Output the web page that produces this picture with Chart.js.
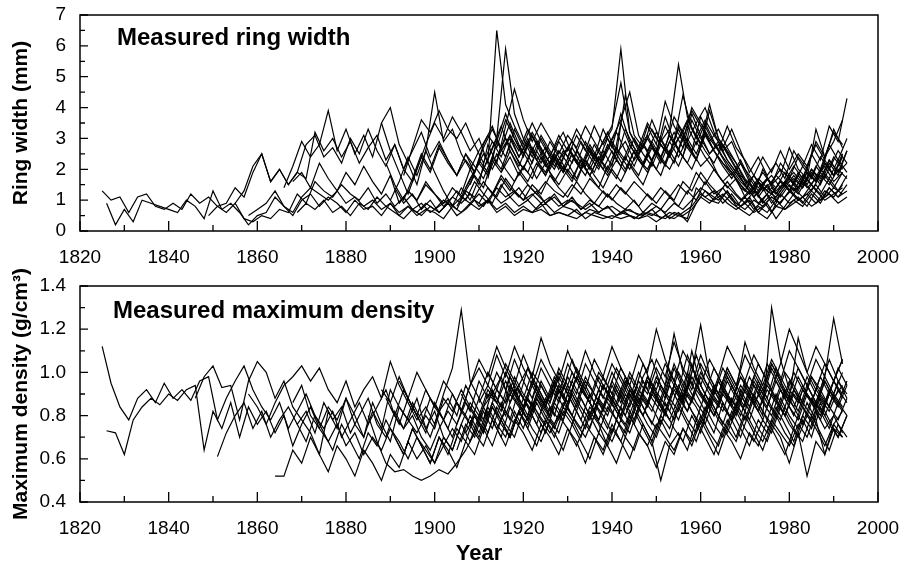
<!DOCTYPE html>
<html>
<head>
<meta charset="utf-8">
<script src="https://cdn.jsdelivr.net/npm/chart.js@4.4.1/dist/chart.umd.min.js"></script>
<style>
  body { margin: 0; background: #fff; }
  #wrap { position: relative; width: 910px; height: 567px; }
  canvas { position: absolute; left: 0; }
  #ringCanvas { top: 0; }
  #densCanvas { top: 260px; }
</style>
</head>
<body>
<div id="wrap">
  <canvas id="ringCanvas" width="910" height="280"></canvas>
  <canvas id="densCanvas" width="910" height="307"></canvas>
</div>
<script>
// tahun dan tick
const xTicks = [1820, 1840, 1860, 1880, 1900, 1920, 1940, 1960, 1980, 2000];
const ringTicks = [0, 1, 2, 3, 4, 5, 6, 7];
const densTicks = [0.4, 0.6, 0.8, 1.0, 1.2, 1.4];
const yearStep = 2; // nilai dibaca tiap 2 tahun

// lebar cincin (mm), tahun awal tiap seri
const ringStarts = [1825, 1826, 1849, 1855, 1858, 1866, 1868, 1869, 1888, 1890,
                    1891, 1893, 1905, 1906, 1908, 1910, 1911, 1912, 1892, 1889,
                    1914, 1915, 1907, 1913];

const ring1 = [1.3, 1.0, 1.1, 0.6, 1.1, 1.2, 0.8, 0.7, 0.9, 0.7, 1.2, 0.9, 1.1,
  0.8, 0.9, 1.4, 1.1, 1.9, 2.5, 1.6, 2.0, 1.5, 1.9, 2.8, 3.1, 2.4,
  2.7, 2.2, 3.0, 2.5, 3.3, 2.6, 2.1, 2.8, 2.0, 2.6, 3.2, 2.4, 2.9,
  2.3, 1.8, 2.5, 2.1, 1.7, 2.4, 2.0, 2.8, 2.2, 1.9, 2.6, 2.1, 2.4,
  1.9, 2.5, 2.0, 2.7, 2.2, 1.8, 2.3, 1.9, 2.6, 2.1, 2.8, 2.3, 2.0,
  2.6, 2.2, 2.9, 2.4, 2.0, 1.6, 1.9, 1.4, 1.2, 1.6, 1.3, 1.8, 1.5,
  1.7, 1.4, 2.0, 1.6, 2.3, 1.9, 2.2];
const ring2 = [0.9, 0.2, 0.7, 0.3, 1.0, 0.9, 0.8, 0.7, 0.6, 1.0, 0.8, 0.4, 1.3,
  0.7, 0.9, 0.6, 0.2, 0.5, 0.6, 1.1, 0.8, 0.5, 1.0, 1.2, 0.8, 1.1,
  0.9, 0.6, 1.0, 0.7, 0.8, 0.5, 0.9, 0.6, 0.8, 0.5, 0.7, 0.6, 0.4,
  0.8, 0.6, 0.9, 0.7, 1.0, 0.6, 0.8, 0.5, 0.7, 0.6, 0.9, 0.5, 0.6,
  0.5, 0.7, 0.4, 0.6, 0.5, 0.4, 0.6, 0.5, 0.4, 0.5, 0.3, 0.5, 0.4,
  0.6, 0.8, 1.2, 1.0, 0.9, 1.3, 0.8, 1.1, 0.7, 1.0, 0.6, 1.2, 0.9,
  1.1, 0.8, 1.3, 1.0, 1.2, 1.4];
const ring3 = [0.5, 0.8, 0.6, 0.9, 0.4, 0.3, 0.5, 0.4, 0.7, 0.6, 1.2, 0.9, 1.6,
  1.3, 1.1, 1.5, 1.2, 1.0, 1.4, 0.9, 1.2, 0.8, 1.1, 0.7, 0.9, 0.6,
  0.8, 1.0, 0.7, 1.3, 1.1, 1.6, 1.2, 1.8, 1.4, 1.1, 1.5, 1.2, 0.9,
  1.1, 0.8, 1.0, 0.7, 0.9, 0.6, 0.8, 0.5, 0.7, 0.6, 0.5, 0.7, 0.4,
  0.6, 0.5, 0.4, 1.4, 1.1, 1.3, 0.9, 1.2, 0.8, 1.0, 0.6, 0.4, 0.8,
  0.7, 1.0, 0.8, 1.2, 0.9, 1.4, 1.1, 1.3];
const ring4 = [0.9, 1.3, 2.1, 2.5, 1.6, 2.0, 1.5, 1.9, 1.7, 3.2, 2.6, 3.0, 2.4,
  2.9, 2.2, 2.7, 3.1, 2.3, 2.8, 2.0, 1.6, 2.4, 1.9, 2.7, 2.2, 1.8,
  2.3, 1.9, 2.8, 3.4, 2.6, 3.0, 2.4, 2.9, 2.3, 2.7, 2.1, 2.5, 2.9,
  2.4, 2.0, 2.6, 3.2, 2.5, 2.9, 2.3, 2.7, 3.3, 2.8, 2.4, 3.0, 3.6,
  3.1, 2.6, 2.2, 2.8, 2.3, 1.8, 1.5, 1.2, 1.7, 1.4, 1.9, 1.5, 2.1,
  1.7, 2.4, 2.0, 2.6, 2.2];
const ring5 = [0.5, 0.7, 0.9, 1.3, 0.8, 0.6, 1.1, 1.4, 1.2, 1.0, 1.3, 0.9, 1.1,
  0.8, 1.0, 0.7, 0.9, 0.5, 0.8, 0.6, 0.9, 0.7, 1.0, 0.8, 1.1, 0.9,
  1.2, 0.9, 1.4, 1.1, 1.3, 1.0, 1.2, 0.9, 1.1, 0.8, 1.0, 0.9, 0.7,
  0.9, 0.7, 0.8, 0.6, 0.7, 0.5, 0.6, 0.8, 0.6, 0.9, 0.7, 1.0, 1.4,
  1.2, 1.0, 1.3, 0.9, 0.7, 1.0, 0.8, 1.1, 0.9, 1.3, 1.0, 1.2, 1.5,
  1.1, 1.4, 1.2];
const ring6 = [1.4, 2.1, 2.9, 2.4, 2.8, 3.9, 2.6, 3.3, 2.5, 3.1, 2.4, 3.5, 4.0,
  2.8, 2.2, 1.5, 2.6, 4.5, 2.9, 3.3, 2.5, 2.0, 2.6, 3.1, 2.7, 3.6,
  3.0, 2.5, 3.2, 2.7, 2.2, 2.9, 2.4, 3.1, 2.6, 3.4, 2.8, 3.3, 5.9,
  3.2, 2.6, 3.0, 2.5, 3.7, 2.9, 4.4, 3.3, 2.8, 4.1, 3.0, 2.6, 2.2,
  1.6, 1.2, 2.0, 1.5, 1.8, 2.7, 2.0, 1.7, 3.3, 2.4, 2.9, 3.6];
const ring7 = [1.6, 1.9, 1.4, 2.2, 1.7, 1.3, 1.9, 1.5, 2.1, 1.6, 1.2, 1.8, 0.9,
  1.3, 1.0, 1.6, 1.2, 0.9, 1.4, 1.1, 1.7, 2.2, 1.8, 2.5, 2.0, 1.6,
  2.1, 1.7, 2.4, 1.9, 1.5, 2.0, 1.6, 2.3, 1.8, 1.4, 2.0, 1.6, 2.2,
  1.8, 2.5, 2.0, 2.7, 2.2, 3.1, 2.6, 2.1, 2.4, 1.8, 1.4, 1.7, 1.1,
  1.4, 0.9, 1.2, 1.6, 1.3, 1.8, 1.4, 1.7, 2.1, 1.6, 1.9];
const ring8 = [0.6, 0.9, 0.7, 1.0, 0.6, 0.8, 0.5, 0.9, 0.7, 1.1, 0.8, 0.6, 0.4,
  0.7, 0.5, 0.8, 0.6, 0.9, 0.5, 0.7, 1.0, 0.8, 1.2, 0.9, 1.1, 0.8,
  1.0, 0.7, 0.9, 0.6, 0.8, 0.7, 0.5, 0.7, 0.6, 0.8, 0.5, 0.6, 0.4,
  0.6, 0.5, 0.7, 0.4, 0.6, 0.3, 0.9, 1.3, 1.0, 1.2, 0.9, 0.7, 0.5,
  0.8, 0.6, 1.0, 0.7, 0.9, 1.1, 0.8, 1.0, 1.2, 0.9, 1.1];
const ring9 = [3.5, 2.6, 1.9, 1.2, 2.0, 2.8, 3.5, 3.0, 3.7, 3.2, 2.6, 3.0, 2.2,
  6.5, 4.1, 3.4, 2.8, 3.5, 2.9, 2.4, 3.1, 2.6, 3.3, 2.8, 2.3, 2.9,
  3.4, 4.8, 3.2, 2.7, 3.5, 3.0, 2.6, 3.2, 2.7, 3.8, 3.1, 2.5, 2.9,
  2.3, 1.9, 1.5, 1.8, 1.3, 1.6, 2.0, 1.7, 2.4, 2.0, 2.9, 2.4, 3.2, 2.8];
const ring10 = [1.0, 1.6, 2.4, 1.8, 2.6, 1.9, 1.3, 0.8, 1.4, 1.0, 1.7, 2.3, 3.0,
  5.9, 3.8, 3.0, 2.4, 3.1, 2.6, 2.1, 2.7, 2.2, 1.8, 2.5, 2.0, 2.6,
  2.1, 2.8, 2.3, 1.9, 2.6, 2.1, 2.9, 2.4, 2.0, 2.7, 3.9, 3.0, 2.5,
  2.0, 1.5, 1.1, 1.4, 0.9, 1.3, 1.7, 1.4, 2.0, 1.6, 2.3, 1.8, 2.5];
const ring11 = [1.4, 0.9, 1.2, 0.7, 1.0, 0.6, 0.9, 1.3, 1.0, 1.6, 1.2, 0.9, 1.5,
  1.1, 1.4, 1.0, 1.3, 0.9, 1.2, 0.8, 1.1, 0.7, 1.0, 0.8, 1.2, 0.9,
  0.7, 1.0, 0.6, 0.9, 0.7, 1.1, 0.8, 1.3, 1.0, 1.6, 1.2, 1.4, 1.0,
  0.8, 1.1, 0.6, 0.9, 0.4, 0.8, 1.2, 0.9, 1.3, 1.0, 1.4, 1.1, 1.5];
const ring12 = [1.8, 2.7, 3.6, 3.2, 3.9, 3.3, 3.0, 3.5, 2.8, 2.2, 2.9, 2.4, 3.1,
  2.6, 3.3, 2.8, 2.2, 2.7, 3.2, 2.5, 2.1, 2.8, 2.3, 3.0, 2.5, 4.4,
  3.1, 2.7, 3.6, 2.9, 3.3, 5.4, 3.7, 3.0, 3.6, 3.1, 2.7, 3.3, 2.6,
  1.9, 2.4, 1.8, 2.2, 1.7, 2.6, 2.1, 2.8, 2.3, 3.4, 2.9, 4.3];
const ring13 = [0.8, 1.3, 1.8, 1.4, 2.3, 1.9, 2.6, 2.0, 1.6, 2.2, 1.8, 2.5, 2.0,
  1.6, 2.3, 1.8, 1.4, 2.1, 1.7, 2.4, 1.9, 1.5, 2.2, 1.8, 2.6, 2.1,
  2.8, 2.3, 3.2, 2.6, 2.2, 1.9, 1.5, 1.2, 1.6, 1.3, 1.1, 1.5, 1.2,
  1.6, 1.3, 1.8, 1.5, 2.0, 1.7];
const ring14 = [1.2, 2.0, 1.5, 2.8, 2.2, 3.4, 4.6, 3.6, 2.9, 3.5, 3.0, 2.5, 3.1,
  2.7, 3.4, 2.9, 2.4, 3.0, 3.6, 4.5, 3.1, 2.6, 3.2, 2.7, 3.7, 3.2,
  3.9, 3.4, 2.9, 3.3, 2.7, 2.2, 1.7, 1.4, 1.9, 1.5, 2.2, 1.8, 1.4,
  1.9, 1.6, 2.2, 1.8, 2.4];
const ring15 = [1.5, 2.3, 1.9, 2.9, 2.4, 3.3, 2.7, 2.2, 3.0, 2.5, 2.0, 2.7, 2.2,
  2.9, 2.4, 3.3, 2.7, 3.8, 2.9, 2.5, 3.4, 2.8, 4.2, 3.4, 2.9, 4.0,
  3.5, 3.0, 2.6, 3.4, 2.7, 2.3, 1.8, 2.4, 1.9, 2.6, 2.0, 2.5, 2.1,
  2.8, 2.3, 3.3, 2.7];
const ring16 = [0.9, 1.4, 1.1, 1.7, 1.3, 1.0, 1.5, 1.2, 1.8, 1.4, 1.1, 1.6, 1.2,
  0.9, 1.3, 1.0, 1.4, 1.1, 0.8, 1.2, 0.9, 1.3, 1.0, 1.6, 1.3, 1.9,
  1.5, 1.2, 1.6, 1.2, 0.9, 1.3, 1.0, 1.4, 1.1, 1.5, 1.2, 1.7, 1.3,
  1.8, 1.4, 1.9];
const ring17 = [2.0, 2.7, 3.4, 2.6, 2.1, 2.8, 2.3, 1.9, 2.5, 2.0, 2.7, 2.2, 1.8,
  2.4, 2.0, 2.7, 2.3, 3.0, 2.5, 2.1, 2.8, 2.4, 3.4, 2.9, 3.5, 4.0,
  3.2, 2.6, 2.9, 2.2, 1.8, 1.4, 1.7, 1.3, 1.6, 1.9, 1.5, 2.0, 1.7,
  2.3, 1.9, 2.6];
const ring18 = [1.7, 2.9, 3.8, 3.0, 2.4, 3.1, 2.6, 2.0, 2.6, 2.2, 1.7, 2.3, 1.9,
  2.6, 2.1, 3.5, 2.8, 2.3, 2.0, 2.6, 2.2, 2.9, 2.4, 3.6, 3.0, 2.5,
  2.8, 2.3, 1.9, 1.5, 1.1, 1.5, 1.8, 1.4, 1.7, 1.3, 1.9, 1.6, 2.2,
  1.8, 2.5];
const ring19 = [0.9, 1.3, 1.0, 1.5, 1.2, 0.8, 1.1, 0.9, 1.2, 0.8, 1.0, 0.7, 0.9,
  0.6, 0.8, 0.6, 0.7, 0.5, 0.6, 0.5, 0.4, 0.6, 0.5, 0.4, 0.5, 0.4,
  0.5, 0.4, 0.6, 0.5, 0.4, 0.6, 0.5, 0.7, 1.1, 0.9, 1.2, 0.9, 0.7,
  0.9, 0.6, 0.8, 1.1, 0.9, 1.3, 1.0, 1.2, 0.9, 1.3, 1.1, 1.5];
const ring20 = [2.2, 1.5, 1.0, 1.7, 2.5, 2.0, 2.8, 2.3, 1.8, 2.5, 1.9, 2.7, 3.3,
  2.7, 3.5, 2.8, 2.3, 2.9, 2.4, 2.0, 2.6, 2.2, 2.9, 2.4, 2.0, 2.7,
  3.2, 2.6, 2.1, 2.8, 2.3, 3.0, 2.5, 3.3, 2.7, 2.3, 3.1, 2.6, 2.2,
  1.8, 2.3, 1.7, 1.3, 1.7, 1.2, 1.6, 2.1, 1.7, 2.5, 2.0, 2.8, 2.3, 3.0];
const ring21 = [2.4, 3.0, 2.5, 2.0, 2.7, 2.2, 2.9, 2.4, 1.9, 2.6, 2.1, 2.8, 2.3,
  2.9, 2.4, 2.0, 2.7, 3.1, 2.5, 3.4, 2.8, 3.2, 2.6, 3.7, 3.1, 2.6,
  2.1, 1.7, 1.3, 1.8, 1.4, 1.2, 1.6, 1.3, 1.9, 1.5, 2.1, 1.7, 2.4, 2.0];
const ring22 = [1.9, 2.4, 1.8, 2.3, 1.7, 2.2, 1.6, 2.1, 1.7, 2.3, 1.8, 2.4, 1.9,
  2.5, 2.0, 2.6, 2.1, 2.7, 2.2, 2.9, 2.4, 3.0, 2.5, 3.2, 2.6, 2.1,
  1.7, 2.2, 1.6, 1.1, 1.5, 1.0, 1.4, 1.8, 1.4, 1.9, 1.5, 2.2, 1.8, 2.6];
const ring23 = [1.4, 1.9, 2.5, 2.0, 2.6, 3.1, 2.4, 3.0, 2.3, 1.8, 2.4, 1.9, 2.5,
  2.0, 2.6, 2.1, 2.8, 2.3, 3.3, 2.7, 2.2, 2.9, 2.4, 3.1, 2.6, 3.4,
  2.8, 3.5, 2.9, 2.4, 2.0, 1.6, 1.3, 1.7, 1.4, 1.2, 1.6, 1.3, 1.8,
  1.5, 2.0, 1.7, 2.3, 1.9];
const ring24 = [1.2, 1.7, 1.3, 1.9, 1.5, 1.2, 1.6, 1.3, 1.1, 1.5, 1.2, 1.7, 1.4,
  1.1, 1.5, 1.2, 1.6, 1.3, 1.0, 1.4, 1.1, 1.5, 1.2, 1.9, 1.5, 2.0,
  1.6, 1.3, 1.0, 1.3, 0.9, 1.2, 0.8, 1.1, 1.4, 1.1, 1.5, 1.2, 1.7, 1.3, 1.8];

const ringSeries = [ring1, ring2, ring3, ring4, ring5, ring6, ring7, ring8, ring9, ring10,
                    ring11, ring12, ring13, ring14, ring15, ring16, ring17, ring18, ring19, ring20,
                    ring21, ring22, ring23, ring24];

// kerapatan maksimum (g/cm3)
const densStarts = [1825, 1826, 1846, 1851, 1858, 1864, 1868, 1869, 1885, 1888,
                    1890, 1891, 1892, 1905, 1906, 1908, 1910, 1912, 1914, 1889,
                    1913, 1907, 1917, 1919];

const dens1 = [1.12, 0.95, 0.84, 0.78, 0.88, 0.92, 0.86, 0.95, 0.88, 0.92, 0.87, 0.96, 0.98,
  0.78, 0.88, 0.96, 1.03, 0.92, 0.84, 0.78, 0.86, 0.74, 0.82, 0.90, 0.80, 0.74,
  0.82, 0.70, 0.78, 0.86, 0.76, 0.84, 0.92, 0.80, 0.74, 0.86, 0.78, 0.70, 0.82,
  0.88, 0.80, 0.94, 0.86, 0.78, 0.92, 0.84, 0.98, 0.88, 0.80, 0.94, 0.86, 0.92,
  0.84, 0.96, 0.88, 0.80, 0.92, 0.86, 0.78, 0.90, 0.84, 0.96, 0.88, 0.82, 0.94,
  0.86, 1.00, 0.90, 0.82, 0.94, 0.86, 0.78, 0.92, 0.84, 0.96, 0.88, 1.02, 0.90,
  0.84, 0.94, 0.86, 0.80, 0.92, 0.86, 0.96];
const dens2 = [0.73, 0.72, 0.62, 0.78, 0.84, 0.88, 0.85, 0.90, 0.87, 0.92, 0.94, 0.64, 0.82,
  0.74, 0.86, 0.70, 0.84, 0.76, 0.82, 0.72, 0.80, 0.66, 0.76, 0.84, 0.74, 0.68,
  0.76, 0.66, 0.72, 0.62, 0.70, 0.64, 0.74, 0.68, 0.60, 0.70, 0.64, 0.58, 0.66,
  0.74, 0.68, 0.80, 0.72, 0.84, 0.76, 0.70, 0.82, 0.74, 0.86, 0.78, 0.72, 0.80,
  0.74, 0.66, 0.76, 0.70, 0.62, 0.74, 0.68, 0.80, 0.72, 0.66, 0.76, 0.70, 0.64,
  0.74, 0.68, 0.80, 0.72, 0.66, 0.78, 0.70, 0.82, 0.74, 0.68, 0.78, 0.72, 0.66,
  0.76, 0.70, 0.82, 0.74, 0.80, 0.72];
const dens3 = [0.88, 0.98, 1.03, 0.93, 0.94, 0.78, 0.96, 1.05, 1.00, 0.88, 0.96, 0.84, 0.78,
  0.72, 0.62, 0.82, 0.74, 0.88, 0.80, 0.70, 0.86, 0.76, 0.68, 0.84, 0.78, 0.72,
  0.80, 0.74, 0.88, 0.82, 0.92, 0.84, 0.78, 0.90, 0.86, 0.96, 0.88, 0.82, 0.94,
  0.86, 0.80, 0.92, 0.84, 0.98, 0.90, 0.82, 0.94, 0.88, 0.80, 0.92, 0.86, 0.96,
  0.88, 0.82, 0.94, 0.86, 1.04, 0.90, 0.84, 0.96, 0.88, 0.82, 0.94, 0.86, 0.92,
  0.84, 0.78, 0.90, 0.82, 0.94, 0.86, 0.80, 0.90, 0.84];
const dens4 = [0.61, 0.72, 0.80, 0.86, 0.74, 0.82, 0.70, 0.78, 0.84, 0.76, 0.82, 0.72, 0.86,
  0.78, 0.84, 0.72, 0.80, 0.88, 0.76, 0.70, 0.82, 0.74, 0.80, 0.70, 0.64, 0.74,
  0.82, 0.76, 0.86, 0.80, 0.72, 0.84, 0.78, 0.90, 0.84, 0.78, 0.88, 0.82, 0.76,
  0.86, 0.80, 0.74, 0.84, 0.78, 0.88, 0.82, 0.76, 0.86, 0.80, 0.90, 0.84, 0.78,
  0.88, 0.82, 0.92, 0.86, 0.80, 0.90, 0.84, 0.94, 0.88, 0.82, 0.92, 0.86, 0.80,
  0.90, 0.84, 0.78, 0.88, 0.82, 0.92, 0.86];
const dens5 = [0.90, 0.84, 0.76, 0.86, 0.94, 0.98, 1.03, 0.96, 1.02, 0.92, 0.86, 0.96, 0.84,
  0.92, 0.98, 0.88, 1.05, 0.94, 0.86, 0.78, 0.84, 0.76, 0.90, 1.02, 1.29, 0.96,
  0.88, 1.00, 0.92, 0.86, 0.98, 0.90, 0.84, 0.96, 0.88, 1.02, 0.94, 0.86, 0.98,
  0.90, 0.84, 0.96, 0.88, 1.00, 0.92, 0.86, 0.98, 0.90, 1.04, 0.94, 0.88, 1.00,
  0.92, 0.86, 0.98, 0.90, 0.84, 0.96, 0.88, 1.02, 0.94, 0.86, 0.98, 0.90, 0.84,
  0.96, 0.88, 0.94];
const dens6 = [0.52, 0.52, 0.64, 0.58, 0.70, 0.62, 0.54, 0.66, 0.60, 0.52, 0.64, 0.58, 0.50,
  0.62, 0.56, 0.68, 0.60, 0.66, 0.58, 0.70, 0.64, 0.76, 0.68, 0.80, 0.72, 0.84,
  0.76, 0.70, 0.82, 0.74, 0.68, 0.78, 0.72, 0.84, 0.76, 0.70, 0.80, 0.74, 0.68,
  0.78, 0.72, 0.84, 0.76, 0.70, 0.82, 0.74, 0.68, 0.80, 0.72, 0.86, 0.78, 0.72,
  0.82, 0.74, 0.68, 0.78, 0.72, 0.84, 0.76, 0.70, 0.80, 0.74, 0.66, 0.76, 0.70];
const dens7 = [0.86, 0.94, 0.80, 0.74, 0.84, 0.78, 0.88, 0.76, 0.70, 0.82, 0.74, 0.92, 0.84,
  0.78, 0.88, 0.74, 0.82, 0.70, 0.64, 0.76, 0.86, 0.80, 0.92, 0.86, 1.00, 0.90,
  0.84, 0.96, 0.88, 0.80, 0.92, 0.86, 0.98, 0.90, 0.82, 0.94, 0.88, 0.80, 0.92,
  0.86, 0.98, 0.90, 0.82, 0.94, 0.88, 1.10, 0.94, 0.86, 0.98, 0.90, 0.84, 0.96,
  0.88, 0.80, 1.30, 1.06, 0.92, 0.86, 0.98, 0.90, 0.84, 0.96, 0.88];
const dens8 = [0.76, 0.68, 0.80, 0.72, 0.64, 0.76, 0.68, 0.60, 0.72, 0.66, 0.78, 0.70, 0.62,
  0.74, 0.66, 0.58, 0.70, 0.62, 0.74, 0.68, 0.80, 0.72, 0.84, 0.76, 0.70, 0.82,
  0.74, 0.86, 0.78, 0.70, 0.82, 0.76, 0.88, 0.80, 0.72, 0.84, 0.78, 0.70, 0.82,
  0.74, 0.66, 0.78, 0.70, 0.84, 0.76, 0.68, 0.80, 0.72, 0.86, 0.78, 0.70, 0.82,
  0.74, 0.68, 0.80, 0.72, 0.66, 0.78, 0.70, 0.84, 0.76, 0.70, 0.80];
const dens9 = [0.80, 0.68, 0.58, 0.54, 0.55, 0.52, 0.50, 0.52, 0.55, 0.53, 0.58, 0.64, 0.72,
  0.66, 0.78, 0.70, 0.84, 0.76, 0.88, 0.80, 0.72, 0.84, 0.78, 0.90, 0.82, 0.74,
  0.86, 0.80, 0.92, 0.84, 0.76, 0.88, 0.82, 0.94, 0.86, 0.78, 0.90, 0.84, 0.76,
  0.88, 0.82, 0.94, 0.86, 0.78, 0.90, 0.84, 0.96, 0.88, 0.80, 0.92, 0.86, 0.78,
  0.90, 0.84, 0.94];
const dens10 = [0.92, 0.86, 0.98, 0.88, 0.80, 0.92, 0.84, 0.78, 0.90, 0.82, 0.94, 1.02, 0.94,
  1.08, 0.98, 1.12, 1.02, 0.94, 1.06, 0.98, 0.90, 1.04, 0.96, 1.10, 1.00, 0.92,
  1.04, 0.96, 0.88, 1.00, 0.92, 1.06, 0.98, 1.14, 1.02, 0.94, 1.08, 0.98, 0.90,
  1.02, 0.94, 1.08, 1.00, 0.92, 1.04, 0.96, 1.10, 1.02, 0.94, 1.06, 0.98, 1.25,
  1.04];
const dens11 = [0.84, 0.76, 0.88, 0.80, 0.72, 0.86, 0.78, 0.70, 0.82, 0.76, 0.88, 0.80, 0.92,
  0.86, 0.94, 0.88, 0.82, 0.94, 0.86, 1.00, 0.92, 0.84, 0.96, 0.90, 0.82, 0.94,
  0.86, 0.98, 0.90, 0.84, 0.96, 0.88, 1.02, 0.92, 0.86, 0.98, 0.90, 0.84, 0.96,
  0.88, 0.82, 0.94, 0.86, 0.80, 0.92, 0.84, 0.78, 0.90, 0.84, 0.96, 0.88, 0.82];
const dens12 = [0.70, 0.62, 0.74, 0.66, 0.58, 0.70, 0.64, 0.56, 0.68, 0.62, 0.74, 0.66, 0.78,
  0.70, 0.82, 0.74, 0.66, 0.78, 0.72, 0.64, 0.76, 0.68, 0.60, 0.72, 0.66, 0.58,
  0.70, 0.64, 0.76, 0.68, 0.50, 0.66, 0.72, 0.64, 0.78, 0.70, 0.62, 0.74, 0.68,
  0.60, 0.72, 0.66, 0.78, 0.70, 0.62, 0.74, 0.68, 0.80, 0.72, 0.64, 0.76, 0.70];
const dens13 = [0.96, 0.88, 1.00, 0.92, 0.84, 0.96, 0.90, 0.82, 0.94, 1.06, 0.98, 1.12, 1.02,
  0.94, 1.08, 0.98, 1.16, 1.04, 0.96, 1.10, 1.00, 0.92, 1.06, 0.98, 1.12, 1.02,
  0.94, 1.08, 1.00, 1.20, 1.06, 0.96, 1.10, 1.02, 0.94, 1.06, 0.98, 1.12, 1.04,
  0.96, 1.08, 1.00, 0.92, 1.04, 1.20, 1.10, 1.00, 1.12, 1.04, 0.96, 1.06];
const dens14 = [0.64, 0.76, 0.70, 0.82, 0.74, 0.86, 0.78, 0.92, 0.84, 0.76, 0.88, 0.80, 0.94,
  0.86, 0.78, 0.90, 0.82, 0.74, 0.86, 0.80, 0.92, 0.84, 0.76, 0.88, 0.82, 0.94,
  0.86, 0.78, 0.90, 0.84, 0.76, 0.88, 0.80, 0.92, 0.86, 0.78, 0.90, 0.82, 0.74,
  0.86, 0.80, 0.92, 0.84, 0.78, 0.88];
const dens15 = [0.90, 0.82, 0.96, 0.88, 1.00, 0.92, 1.06, 0.96, 0.88, 1.02, 0.94, 0.86, 0.98,
  0.90, 1.04, 0.96, 0.88, 1.00, 0.92, 0.84, 0.96, 0.90, 1.02, 0.94, 1.18, 1.00,
  0.92, 1.04, 0.96, 0.88, 1.00, 0.92, 1.14, 1.02, 0.94, 1.06, 0.98, 0.90, 1.02,
  0.94, 0.86, 0.98, 0.90, 1.00];
const dens16 = [0.78, 0.70, 0.82, 0.74, 0.66, 0.78, 0.72, 0.64, 0.76, 0.70, 0.62, 0.74, 0.68,
  0.58, 0.70, 0.64, 0.76, 0.68, 0.60, 0.72, 0.66, 0.56, 0.68, 0.62, 0.74, 0.66,
  0.78, 0.70, 0.62, 0.74, 0.68, 0.80, 0.72, 0.64, 0.76, 0.70, 0.58, 0.72, 0.52,
  0.68, 0.62, 0.74, 0.70];
const dens17 = [0.86, 0.94, 0.88, 0.80, 0.92, 0.84, 0.96, 0.88, 0.82, 0.94, 0.86, 0.98, 0.90,
  0.82, 0.94, 0.86, 0.78, 0.90, 0.84, 0.96, 0.88, 0.80, 0.92, 0.86, 0.98, 0.90,
  0.84, 0.96, 0.88, 0.80, 0.92, 0.86, 0.78, 0.90, 0.84, 0.96, 0.88, 0.80, 0.92,
  0.86, 0.96, 0.90];
const dens18 = [1.00, 0.92, 1.04, 0.96, 0.88, 1.00, 0.94, 0.86, 0.98, 0.90, 1.02, 0.94, 0.86,
  0.98, 0.90, 1.02, 0.94, 0.86, 0.98, 0.92, 1.04, 0.96, 0.88, 1.00, 1.22, 0.98,
  0.90, 1.02, 0.94, 0.86, 0.98, 0.90, 1.04, 0.96, 0.88, 1.16, 1.00, 0.92, 1.04,
  0.96, 1.06];
const dens19 = [0.74, 0.82, 0.76, 0.88, 0.80, 0.72, 0.84, 0.78, 0.90, 0.82, 0.74, 0.86, 0.80,
  0.72, 0.84, 0.76, 0.88, 0.80, 0.74, 0.86, 0.78, 0.90, 0.82, 0.76, 0.88, 0.80,
  0.74, 0.86, 0.78, 0.90, 0.82, 0.76, 0.88, 0.80, 0.74, 0.86, 0.78, 0.62, 0.76,
  0.82];
const dens20 = [0.88, 0.80, 0.92, 0.84, 0.76, 0.88, 0.82, 0.74, 0.86, 0.80, 0.72, 0.84, 0.90,
  0.82, 0.94, 0.86, 0.78, 0.90, 0.84, 0.96, 0.88, 0.80, 0.92, 0.86, 0.78, 0.90,
  0.84, 0.96, 0.88, 0.80, 0.92, 0.86, 0.98, 0.90, 0.82, 0.94, 0.88, 0.80, 0.92,
  0.86, 0.98, 0.90, 0.82, 0.94, 0.88, 0.80, 0.92, 0.86, 0.98, 0.90, 0.84, 0.96, 0.88];
const dens21 = [0.90, 0.98, 0.86, 0.94, 1.02, 0.92, 0.84, 0.96, 0.88, 1.00, 0.92, 0.86, 0.98,
  0.90, 1.02, 0.94, 0.86, 0.98, 1.06, 0.94, 0.88, 1.00, 0.92, 1.08, 0.96, 0.90,
  1.02, 0.94, 0.86, 0.98, 0.90, 1.04, 0.96, 0.88, 1.00, 0.92, 0.86, 0.98, 0.90, 1.02, 0.94];
const dens22 = [0.72, 0.80, 0.74, 0.86, 0.78, 0.70, 0.82, 0.76, 0.88, 0.80, 0.74, 0.84, 0.78,
  0.70, 0.82, 0.76, 0.66, 0.78, 0.72, 0.84, 0.76, 0.68, 0.80, 0.74, 0.86, 0.78,
  0.72, 0.84, 0.76, 0.70, 0.82, 0.74, 0.66, 0.78, 0.72, 0.84, 0.76, 0.68, 0.80,
  0.74, 0.86, 0.78, 0.70, 0.80];
const dens23 = [0.94, 0.88, 1.02, 0.94, 0.86, 0.98, 0.92, 1.06, 0.96, 0.88, 1.00, 0.94, 0.86,
  0.98, 0.90, 1.04, 0.94, 0.88, 1.00, 0.92, 1.08, 0.98, 0.90, 1.02, 0.94, 0.86,
  0.98, 0.92, 1.04, 0.96, 0.88, 1.00, 0.94, 0.86, 0.98, 0.92, 1.06, 0.96, 0.90];
const dens24 = [0.80, 0.88, 0.82, 0.76, 0.86, 0.80, 0.92, 0.84, 0.78, 0.88, 0.82, 0.94, 0.86,
  0.78, 0.90, 0.84, 0.76, 0.88, 0.82, 0.94, 0.86, 0.80, 0.92, 0.84, 0.78, 0.90,
  0.82, 0.94, 0.86, 0.80, 0.92, 0.84, 0.76, 0.88, 0.82, 0.74, 0.86, 0.80];

const densSeries = [dens1, dens2, dens3, dens4, dens5, dens6, dens7, dens8, dens9, dens10,
                    dens11, dens12, dens13, dens14, dens15, dens16, dens17, dens18, dens19, dens20,
                    dens21, dens22, dens23, dens24];

const FONT = "'Liberation Sans', Arial, Helvetica, sans-serif";

// Fungsi untuk membuat dataset dari seri dan tahun awal
function buatDataset(series, starts) {
    return series.map((vals, k) => ({
        data: vals.map((v, i) => ({ x: starts[k] + i * yearStep, y: v })),
        borderColor: '#000',
        borderWidth: 1.2,
        pointRadius: 0,
        tension: 0,
        fill: false
    }));
}

// Plugin: bingkai, tick ke dalam, label panel
const bingkaiPlugin = {
    id: 'bingkai',
    afterDraw(chart, args, opts) {
        const { ctx, chartArea: a, scales: { x, y } } = chart;
        ctx.save();
        ctx.strokeStyle = '#000';
        ctx.lineWidth = 1.5;
        ctx.strokeRect(a.left, a.top, a.right - a.left, a.bottom - a.top);

        ctx.lineWidth = 1.3;
        ctx.beginPath();
        for (let i = 0; i < xTicks.length; i++) {
            const px = x.getPixelForValue(xTicks[i]);
            ctx.moveTo(px, a.bottom);
            ctx.lineTo(px, a.bottom - 10);
            if (i < xTicks.length - 1) {
                const mx = x.getPixelForValue((xTicks[i] + xTicks[i + 1]) / 2);
                ctx.moveTo(mx, a.bottom);
                ctx.lineTo(mx, a.bottom - 6);
            }
        }
        const yt = opts.ticks;
        for (let i = 0; i < yt.length; i++) {
            const py = y.getPixelForValue(yt[i]);
            ctx.moveTo(a.left, py);
            ctx.lineTo(a.left + 8, py);
            if (i < yt.length - 1) {
                const my = y.getPixelForValue((yt[i] + yt[i + 1]) / 2);
                ctx.moveTo(a.left, my);
                ctx.lineTo(a.left + 5, my);
            }
        }
        ctx.stroke();

        ctx.fillStyle = '#000';
        ctx.font = 'bold 24px ' + FONT;
        ctx.textBaseline = 'alphabetic';
        ctx.textAlign = 'left';
        ctx.fillText(opts.label, a.left + opts.labelDx, a.top + opts.labelDy);
        ctx.restore();
    }
};

function buatOpsi(cfg) {
    return {
        responsive: false,
        animation: false,
        devicePixelRatio: 1,
        layout: { padding: { left: 0, right: 32, top: cfg.padTop, bottom: 0 } },
        plugins: {
            legend: { display: false },
            tooltip: { enabled: false },
            bingkai: { ticks: cfg.yTicks, label: cfg.label, labelDx: cfg.labelDx, labelDy: cfg.labelDy }
        },
        scales: {
            x: {
                type: 'linear',
                min: 1820,
                max: 2000,
                afterBuildTicks: s => { s.ticks = xTicks.map(v => ({ value: v })); },
                afterFit: s => {
                    s.height = cfg.xHeight;
                    s.paddingLeft = 0;
                    s.paddingRight = 0;
                },
                grid: { display: false, drawTicks: false },
                border: { display: false },
                ticks: { color: '#000', font: { family: FONT, size: 19 }, padding: 15, maxRotation: 0,
                         callback: v => String(v) },
                title: cfg.xTitle ? {
                    display: true, text: cfg.xTitle, color: '#000',
                    font: { family: FONT, size: 22, weight: 'bold' },
                    padding: { top: 0, bottom: 0 }
                } : { display: false }
            },
            y: {
                type: 'linear',
                min: cfg.yTicks[0],
                max: cfg.yTicks[cfg.yTicks.length - 1],
                afterBuildTicks: s => { s.ticks = cfg.yTicks.map(v => ({ value: v })); },
                afterFit: s => {
                    s.width = 80;
                    s.paddingTop = 0;
                    s.paddingBottom = 0;
                },
                grid: { display: false, drawTicks: false },
                border: { display: false },
                ticks: { color: '#000', font: { family: FONT, size: 19 }, padding: 14,
                         callback: cfg.fmt },
                title: {
                    display: true, text: cfg.yTitle, color: '#000',
                    font: { family: FONT, size: 21, weight: 'bold' },
                    padding: { top: 9, bottom: 0 }
                }
            }
        }
    };
}

new Chart(document.getElementById('ringCanvas'), {
    type: 'line',
    data: { datasets: buatDataset(ringSeries, ringStarts) },
    options: buatOpsi({
        padTop: 15, xHeight: 49, yTicks: ringTicks,
        yTitle: 'Ring width (mm)', label: 'Measured ring width',
        labelDx: 37, labelDy: 30, fmt: v => String(v)
    }),
    plugins: [bingkaiPlugin]
});

new Chart(document.getElementById('densCanvas'), {
    type: 'line',
    data: { datasets: buatDataset(densSeries, densStarts) },
    options: buatOpsi({
        padTop: 26, xHeight: 65, yTicks: densTicks, xTitle: 'Year',
        yTitle: 'Maximum density (g/cm\u00B3)', label: 'Measured maximum density',
        labelDx: 33, labelDy: 32, fmt: v => Number(v).toFixed(1)
    }),
    plugins: [bingkaiPlugin]
});
</script>
</body>
</html>
